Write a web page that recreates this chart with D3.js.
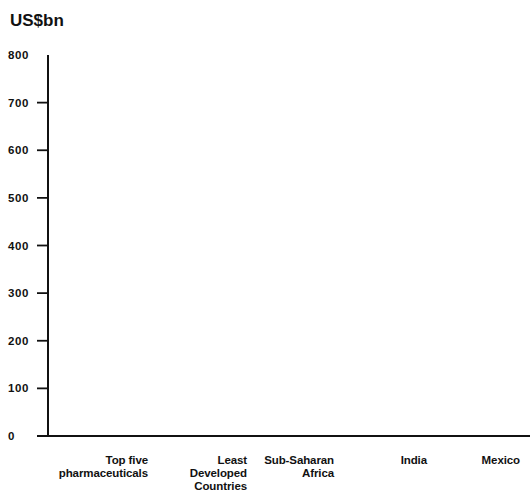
<!DOCTYPE html>
<html>
<head>
<meta charset="utf-8">
<script src="https://cdn.jsdelivr.net/npm/d3@7"></script>
<style>
  html, body { margin: 0; padding: 0; background: #fff; }
  svg { display: block; }
  text { font-family: "Liberation Sans", Arial, Helvetica, sans-serif; font-weight: bold; fill: #111; }
</style>
</head>
<body>
<svg id="chart" width="530" height="496"></svg>
<script>
// Data (the reference shows no visible bars, so all values read as 0)
const categories = ["Top five|pharmaceuticals", "Least|Developed|Countries", "Sub-Saharan|Africa", "India", "Mexico"];
const values = [0, 0, 0, 0, 0];
const yTicks = [0, 100, 200, 300, 400, 500, 600, 700, 800];
const unitLabel = "US$bn";

const svg = d3.select("#chart");
const W = 530, H = 496;
const axisX = 48, yTop = 55, yBottom = 436;

const y = d3.scaleLinear().domain([0, 800]).range([yBottom, yTop]);
const x = d3.scaleBand().domain(categories).range([55, 520]).padding(0);

// Title
svg.append("text").attr("x", 10).attr("y", 26)
  .attr("font-size", 17).text(unitLabel);

// Bars (zero height in the reference)
svg.append("g").selectAll("rect").data(categories).join("rect")
  .attr("x", d => x(d) + x.bandwidth() * 0.2)
  .attr("width", x.bandwidth() * 0.6)
  .attr("y", (d, i) => y(values[i]))
  .attr("height", (d, i) => yBottom - y(values[i]))
  .attr("fill", "#888");

// Y axis line
svg.append("line").attr("x1", axisX).attr("x2", axisX)
  .attr("y1", yTop).attr("y2", yBottom)
  .attr("stroke", "#111").attr("stroke-width", 2);

// Y ticks (tick marks for 100..700)
const tg = svg.append("g");
tg.selectAll("line").data(yTicks.filter(t => t > 0 && t < 800)).join("line")
  .attr("x1", 37).attr("x2", axisX)
  .attr("y1", d => y(d)).attr("y2", d => y(d))
  .attr("stroke", "#111").attr("stroke-width", 1.8);
tg.selectAll("text").data(yTicks).join("text")
  .attr("x", 8).attr("y", d => y(d) + 4)
  .attr("font-size", 11.5).attr("letter-spacing", 0.6)
  .text(d => d);

// X axis line
svg.append("line").attr("x1", 37).attr("x2", W)
  .attr("y1", yBottom).attr("y2", yBottom)
  .attr("stroke", "#111").attr("stroke-width", 2);

// X labels (right-aligned at band end)
const xl = svg.append("g");
categories.forEach(c => {
  const lines = c.split("|");
  const t = xl.append("text")
    .attr("x", x(c) + x.bandwidth() + (c === "Least|Developed|Countries" ? 6 : 0))
    .attr("y", 464)
    .attr("text-anchor", "end")
    .attr("font-size", 11.5)
    .attr("letter-spacing", -0.1);
  lines.forEach((ln, i) => {
    t.append("tspan").attr("x", t.attr("x")).attr("dy", i === 0 ? 0 : 13).text(ln);
  });
});
</script>
</body>
</html>
